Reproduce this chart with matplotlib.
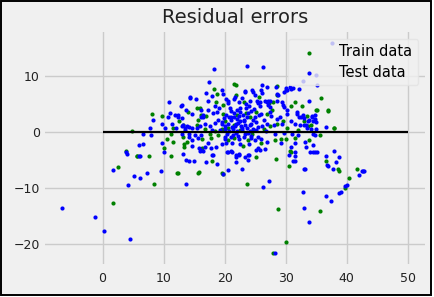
#!/usr/bin/env python3
"""Residual errors of a linear regression, train vs test (fivethirtyeight look)."""

import matplotlib

matplotlib.use("Agg")

import matplotlib.pyplot as plt
from matplotlib.patches import Rectangle

# predicted value (x) and residual (y)
train_x = [
    4.9, 8.1, 9.7, 10.0, 3.8, 5.6, 7.6, 2.5, 8.4, 1.7, 11.6, 11.2, 11.6, 11.2, 12.2, 13.4, 13.4,
    15.8, 16.3, 17.9, 19.6, 19.8, 25.1, 23.6, 28.4, 16.3, 17.8, 13.2, 13.8, 17.6, 18.9, 21.6,
    23.8, 28.2, 29.2, 30.0, 30.9, 30.5, 30.7, 28.7, 28.0, 30.0, 35.6, 36.6, 38.6, 38.8, 39.7,
    40.3, 41.7, 33.5, 35.0, 37.0, 33.0, 34.1, 37.9, 35.7, 33.8, 15.4, 16.2, 16.9, 19.7, 23.5,
    24.1, 25.1, 27.0, 28.6, 30.3, 16.8, 18.4, 19.5, 20.5, 18.3, 21.5, 21.9, 18.7, 21.8, 28.6,
    28.6, 31.6, 15.4, 15.9, 25.6, 27.2, 28.0, 15.6, 18.6, 19.7, 23.2, 35.8, 35.2, 36.9, 38.0,
    32.7, 30.8, 27.7, 33.7, 13.2, 15.7, 12.3, 5.7, 20.0, 21.5, 22.5, 24.5, 26.5, 22.0, 23.0,
    26.0, 20.5, 27.5, 29.5, 12.5, 14.0, 10.5, 31.5, 32.0,
]
train_y = [
    0.2, 3.2, 2.8, -2.8, -3.4, -4.3, -4.2, -6.2, -9.2, -12.7, 0.8, -0.4, -1.8, -4.2, -7.2, -2.1, -2.7,
    -7.1, -2.9, -5.1, -7.3, -7.4, -4.5, -9.2, -4.8, -1.3, -1.1, -0.8, -1.7, -0.4, -0.6, -1.1,
    -1.4, -1.5, -1.3, -1.2, -3.5, -6.1, -3.3, -13.6, -21.6, -19.5, -14.0, -5.2, -6.6, -6.9, -9.9,
    -8.2, -6.5, 2.8, 3.9, 3.8, 1.9, 1.2, 0.65, -0.6, -1.5, 1.2, 3.1, 2.8, 3.2, 3.4,
    2.7, 3.6, 3.2, 1.5, 0.8, 0.5, 0.2, 0.6, 0.8, 7.6, 8.6, 8.3, 6.8, 6.6, 8.2,
    6.5, 5.3, 4.2, 4.2, 6.3, 5.2, 5.4, 2.1, 5.3, 4.8, 5.3, 6.0, 3.9, 4.0, 0.8,
    4.6, 4.6, 3.9, 1.05, 1.3, -7.2, -7.2, -4.3, 2.0, 1.2, 0.3, -0.3, 0.5, 3.0, -2.5,
    -2.0, -1.5, 1.0, 2.0, 2.0, 3.5, -1.2, -1.0, 0.4,
]

test_x = [
    -6.6, -1.3, 0.2, 4.5, 1.7, 4.2, 5.2, 6.2, 7.3, 9.5, 3.8, 4.0, 6.0, 6.2, 6.0, 6.6, 9.8, 10.1,
    6.6, 8.0, 7.8, 10.2, 8.2, 9.8,
    13.2, 13.6, 14.2, 15.0, 13.7, 16.2, 16.4, 16.9, 18.1, 18.8, 19.8, 20.4, 20.6, 21.0, 21.9,
    22.4, 23.3, 22.8, 23.9, 25.2, 25.8, 26.3, 27.2, 28.2, 30.6, 31.5, 31.5, 31.5, 33.0, 32.8,
    33.0, 33.8, 34.0, 34.8, 36.6, 36.7, 36.6, 37.4, 37.8, 37.9, 38.3, 38.7, 38.7, 39.0, 39.8,
    40.1, 42.0, 42.5, 42.6, 42.9, 36.9,
    31.9, 32.5, 32.8, 33.0, 34.3, 34.8, 33.6, 34.5, 35.0, 32.3, 33.0, 33.4, 33.5, 34.1, 35.0,
    36.6, 32.1, 34.5, 34.8, 33.1, 34.5, 33.4, 34.5, 35.2, 33.1, 29.2, 30.8, 31.5, 29.7, 31.1,
    31.2,
    14.7, 15.8, 16.0, 18.0, 20.6, 21.2, 21.9, 22.3, 24.0, 23.8, 21.9, 25.5, 26.6, 24.0, 22.6,
    19.5, 18.6, 20.3, 21.2, 17.3, 16.8, 17.8, 14.6, 15.7, 14.1, 13.0, 14.1, 15.1, 16.2, 20.0,
    21.1, 22.2, 23.2, 24.3, 25.4, 24.9, 26.0, 27.0,
    11.1, 12.4, 13.0, 13.2, 14.1, 13.5, 16.2, 16.8, 17.6, 18.1, 18.9, 19.5, 20.0, 20.5, 21.1,
    21.6, 22.2, 22.7, 23.2, 23.8, 24.3, 24.9, 25.4, 25.9, 26.5, 27.0, 27.6, 28.1, 28.6, 29.4,
    30.3, 30.8, 31.6, 10.7, 11.3, 12.1, 13.0, 13.5, 15.4, 15.9, 10.9, 11.9, 12.4, 12.9, 14.4,
    15.3, 13.7, 14.7, 16.1, 13.9, 14.7, 16.4, 16.4, 17.5, 18.2, 17.2, 17.3, 18.4, 18.7, 19.6,
    19.7, 20.5, 21.7, 22.3, 22.6, 23.3, 23.5, 24.2, 24.5, 25.3, 25.5, 25.9, 25.8, 26.2, 26.6,
    27.1, 27.5, 28.5, 28.8, 28.6, 30.1, 30.1, 30.7, 31.2, 32.2, 33.9, 35.1, 35.0, 33.8, 34.3,
    34.8, 32.2, 31.9, 29.7, 30.2, 29.1, 27.5, 23.6, 26.3, 16.9, 23.3, 24.6, 26.1, 26.9, 28.6,
    29.8, 30.3, 30.9, 14.3, 13.1, 18.0, 20.2, 20.5, 25.8, 27.0, 27.1, 29.4, 29.6, 32.9, 37.6,
    19.2, 20.8, 21.4, 22.0, 22.9, 23.6, 24.1, 20.3, 21.0, 22.1, 23.0, 24.4, 22.5, 21.8, 23.4,
    20.9, 24.8, 26.2, 19.9,
    # dense core around x 19..26, y 0..5
    19.6, 20.1, 20.7, 21.2, 21.5, 21.9, 22.4, 22.8, 23.1, 23.7, 24.0, 24.6, 25.1, 25.6,
    20.4, 21.3, 22.0, 22.6, 23.3, 23.9, 24.7, 25.2, 21.0, 21.7, 22.3, 23.5, 24.2, 19.0,
    18.5, 17.9, 26.8, 27.4, 28.3, 21.6, 22.9, 24.4, 20.0, 25.0,
]
test_y = [
    -13.5, -15.1, -17.6, -19.1, -6.7, -9.5, -7.9, -8.1, -7.2, -6.9, -3.5, -3.9, -4.2, -4.2, -2.3, -2.2, -2.0, -3.5,
    -0.4, -0.6, 0.65, 0.65, 2.1, 1.5,
    -3.9, -4.9, -5.1, -5.1, -9.2, -3.2, -3.3, -5.4, -4.0, -5.6, -7.4, -3.6, -6.7, -3.3, -4.1,
    -3.9, -4.5, -6.5, -4.0, -3.2, -3.2, -9.7, -8.7, -21.6, -4.0, -3.6, -4.3, -5.2, -6.5, -10.6,
    -13.5, -16.0, -3.6, -3.6, -4.3, -5.9, -11.3, -12.2, -6.6, -3.3, -5.4, -4.5, -10.9, -10.7, -9.6,
    -9.4, -7.6, -7.0, -6.9, -6.9, -6.0,
    3.2, 2.7, 3.0, 2.5, 2.8, 3.1, 2.0, 2.0, 1.8, 1.2, 1.2, 1.2, 0.65, 0.5, 0.6,
    0.9, -0.6, -0.35, -0.5, -1.8, -2.3, -2.7, -3.6, -3.6, -6.5, -2.0, -2.6, -1.9, -0.2, -0.4,
    -5.2,
    -2.4, -2.9, -3.3, -4.0, -3.5, -3.5, -4.5, -4.0, -4.0, -5.0, -5.3, -2.9, -3.0, -2.2, -2.2,
    -2.2, -2.7, -2.0, -1.9, -2.0, -2.6, -2.9, -1.4, -1.1, -0.8, -0.4, -0.4, -0.5, -0.6, -0.8,
    -0.9, -0.7, -0.9, -0.7, -0.9, -1.5, -1.3, -1.7,
    3.3, 3.1, 2.5, 1.2, 0.9, 0.8, 2.7, 1.5, 1.1, 3.3, 2.1, 1.4, 1.1, 1.5, 2.1,
    2.7, 1.6, 1.1, 2.2, 3.3, 1.5, 2.6, 0.9, 3.2, 2.1, 1.4, 2.8, 1.2, 2.3, 1.5,
    3.2, 2.0, 1.5, 2.6, 1.5, 0.7, 1.0, 0.4, 0.7, 1.0, 5.3, 3.0, 2.7, 4.7, 6.0,
    5.8, 3.9, 3.2, 4.0, 1.05, 0.7, 2.7, 3.0, 8.9, 11.2, 5.6, 3.9, 4.6, 3.6, 7.4,
    6.8, 5.1, 6.3, 5.3, 4.3, 7.3, 4.2, 5.6, 7.4, 5.6, 5.2, 7.4, 4.7, 8.3, 5.5,
    5.6, 5.6, 8.0, 6.6, 5.6, 7.9, 7.4, 8.0, 7.9, 7.7, 5.6, 8.3, 10.2, 2.1, 2.6,
    2.4, 2.7, 3.5, 4.5, 3.9, 2.7, 3.6, 11.7, 11.6, 6.9, 7.2, 7.2, 6.9, 8.0, 6.8,
    7.2, 7.4, 7.6, 6.2, 4.8, 6.4, 5.9, 5.6, 5.3, 5.3, 4.8, 5.3, 4.8, 9.0, 15.9,
    0.3, 0.2, 0.5, 0.1, 0.4, 0.8, 0.2, 3.0, 3.8, 2.3, 3.0, 3.8, 1.9, -0.2, -0.3,
    4.3, 4.1, 1.1, 2.5,
    1.8, 0.6, 2.6, 0.9, 3.3, 1.4, 2.9, 0.7, 1.9, 2.6, 4.6, 0.5, 1.8, 3.0,
    -0.4, -0.5, 4.0, 3.6, 1.3, -0.1, 2.2, 0.3, 2.7, 1.0, -1.2, 4.9, 1.2, 4.2,
    1.6, 0.4, 0.2, 4.4, -0.3, 5.8, 6.0, -1.1, -1.3, 6.5,
]

series_labels = ["Train data", "Test data"]
series_colors = ["green", "blue"]
x_ticks = [0, 10, 20, 30, 40, 50]
y_ticks = [-20, -10, 0, 10]

BG = "#f0f0f0"

fig = plt.figure(figsize=(4.35, 2.97), dpi=100, facecolor="white")
fig.patches.append(
    Rectangle((0.002, 0.007), 0.989, 0.99, transform=fig.transFigure,
              facecolor=BG, edgecolor="black", linewidth=1.4, zorder=-10)
)
ax = fig.add_axes([0.1034, 0.111, 0.8736, 0.781])
ax.set_facecolor(BG)
for spine in ax.spines.values():
    spine.set_visible(False)
ax.grid(True, color="#cbcbcb", linewidth=1.0)
ax.set_axisbelow(True)

ax.scatter(train_x, train_y, s=9, color=series_colors[0], linewidths=0, label=series_labels[0], zorder=3)
ax.scatter(test_x, test_y, s=9, color=series_colors[1], linewidths=0, label=series_labels[1], zorder=3)
ax.hlines(y=0, xmin=0, xmax=50, color="black", linewidth=1.6, zorder=4)

ax.set_xticks(x_ticks)
ax.set_yticks(y_ticks)
ax.tick_params(axis="both", length=0, labelsize=9, labelcolor="#222222")
ax.tick_params(axis="x", pad=5.8)
ax.tick_params(axis="y", pad=3.6)

ax.set_title("Residual errors", fontsize=14, color="#222222", pad=6.5)

leg = ax.legend(loc="upper right", fontsize=10.5, frameon=True, framealpha=0.8,
                facecolor=BG, edgecolor="#e3e3e3", borderaxespad=0.45,
                handletextpad=1.1, borderpad=0.4, labelspacing=0.35)
leg.set_zorder(5)

fig.savefig("out.png", dpi=100, facecolor=fig.get_facecolor())
